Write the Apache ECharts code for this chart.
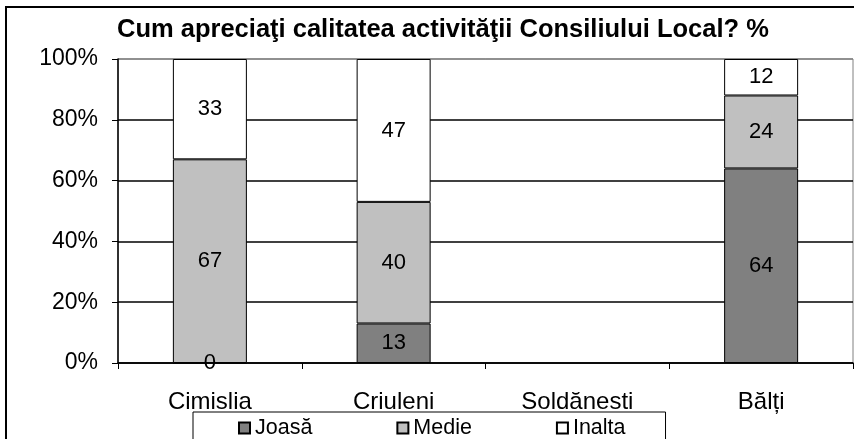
<!DOCTYPE html>
<html>
<head>
<meta charset="utf-8">
<script src="https://cdn.jsdelivr.net/npm/echarts@6/dist/echarts.min.js"></script>
<style>
  html, body { margin: 0; padding: 0; background: #fff; }
  #chart { width: 854px; height: 439px; }
</style>
</head>
<body>
<div id="chart"></div>
<script>
// date
const categories = ['Cimislia', 'Criuleni', 'Soldănesti', 'Bălți']
const joasa = [0, 13, '-', 64]
const medie = [67, 40, '-', 24]
const inalta = [33, 47, '-', 12]
const yTicks = [0, 20, 40, 60, 80, 100]

const font = 'Liberation Sans, Arial, sans-serif'

const chart = echarts.init(document.getElementById('chart'))

function barSeries(name, data, color) {
  return {
    name: name,
    type: 'bar',
    stack: 'total',
    barWidth: 74,
    data: data,
    itemStyle: { color: color, borderColor: '#000', borderWidth: 1 },
    label: {
      show: true,
      position: 'inside',
      color: '#000',
      fontFamily: font,
      fontSize: 22
    },
    animation: false
  }
}

chart.setOption({
  animation: false,
  title: {
    text: 'Cum apreciaţi calitatea activităţii Consiliului Local? %',
    left: 117,
    top: 17,
    padding: 0,
    textStyle: { fontFamily: font, fontSize: 25.5, fontWeight: 'bold', color: '#000' }
  },
  graphic: [{
    type: 'rect',
    shape: { x: 6, y: 7, width: 900, height: 500 },
    style: { fill: null, stroke: '#000', lineWidth: 2 },
    silent: true
  }],
  legend: {
    left: 193,
    top: 412,
    orient: 'horizontal',
    padding: [5, 40, 20, 45],
    itemGap: 84,
    itemWidth: 11,
    itemHeight: 11,
    icon: 'rect',
    borderColor: '#000',
    borderWidth: 1,
    textStyle: { fontFamily: font, fontSize: 21.5, color: '#000' },
    data: ['Joasă', 'Medie', 'Inalta']
  },
  grid: {
    left: 118,
    right: 1,
    top: 59,
    bottom: 76,
    show: true,
    borderColor: '#808080',
    borderWidth: 1
  },
  xAxis: {
    type: 'category',
    data: categories,
    axisLine: { lineStyle: { color: '#000', width: 1.5 } },
    axisTick: { show: true, length: 6, lineStyle: { color: '#000' } },
    axisLabel: { margin: 27, color: '#000', fontFamily: font, fontSize: 24 }
  },
  yAxis: {
    type: 'value',
    min: yTicks[0],
    max: yTicks[yTicks.length - 1],
    interval: 20,
    axisLine: { show: true, lineStyle: { color: '#000', width: 1.5 } },
    axisTick: { show: true, length: 6, lineStyle: { color: '#000' } },
    axisLabel: { margin: 20, color: '#000', fontFamily: font, fontSize: 23, formatter: '{value}%' },
    splitLine: {
      show: true,
      lineStyle: { color: ['#000', '#000', '#000', '#000', '#000', '#808080'], width: 1.5 }
    }
  },
  series: [
    barSeries('Joasă', joasa, '#808080'),
    barSeries('Medie', medie, '#c0c0c0'),
    barSeries('Inalta', inalta, '#ffffff')
  ]
})
</script>
</body>
</html>
